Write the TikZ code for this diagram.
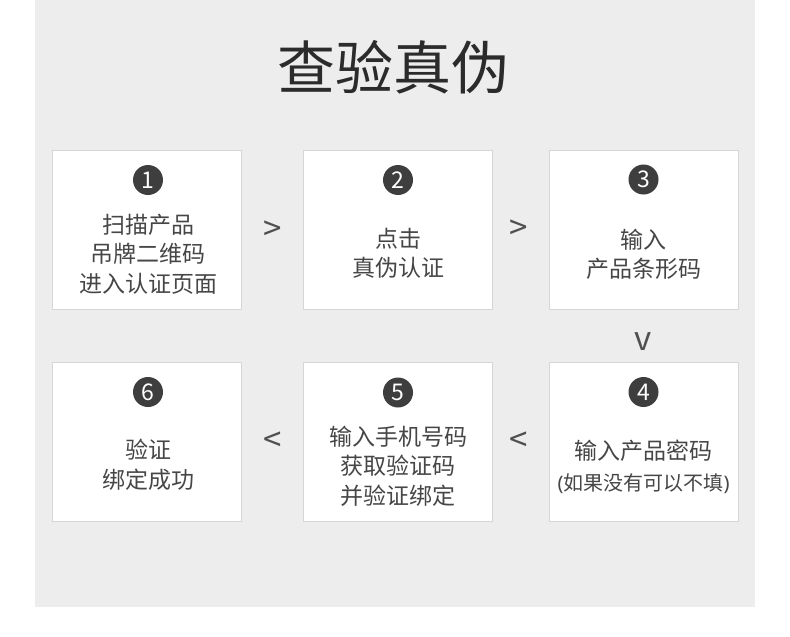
\documentclass[tikz,border=0pt]{standalone}
\usepackage{fontspec}
\setmainfont{Noto Sans CJK SC}
\newfontfamily\cjk{Noto Sans CJK SC}
\newfontfamily\latinp{Noto Sans}
\definecolor{bggray}{HTML}{EDEDED}
\definecolor{boxline}{HTML}{D6D6D6}
\definecolor{txt}{HTML}{464646}
\definecolor{titlec}{HTML}{2B2B2B}
\definecolor{dotc}{HTML}{3E3E3E}
\definecolor{chev}{HTML}{505050}
\begin{document}
\begin{tikzpicture}[x=1pt,y=-1pt,
  stepbox/.style={draw=boxline,line width=1pt,fill=white},
  numdot/.style={circle,fill=dotc,minimum size=30pt,inner sep=0pt,text=white,font=\cjk\fontsize{23}{23}\selectfont},
  steptext/.style={align=center,text=txt,inner sep=0pt,font=\cjk\fontsize{23}{29.5}\selectfont},
  chevron/.style={text=chev,inner sep=0pt,font=\cjk\fontsize{33}{33}\selectfont}]
\useasboundingbox (0,0) rectangle (790,637);
\fill[white] (0,0) rectangle (790,637);
\fill[bggray] (35,0) rectangle (755,607);
\node[text=titlec,inner sep=0pt,font=\cjk\fontsize{58}{58}\selectfont] (title) at (393,67) {查验真伪};
% boxes
\draw[stepbox] (52.5,150.5) rectangle (241.5,309.5);
\draw[stepbox] (303.5,150.5) rectangle (492.5,309.5);
\draw[stepbox] (549.5,150.5) rectangle (738.5,309.5);
\draw[stepbox] (52.5,362.5) rectangle (241.5,521.5);
\draw[stepbox] (303.5,362.5) rectangle (492.5,521.5);
\draw[stepbox] (549.5,362.5) rectangle (738.5,521.5);
% number dots
\node[numdot] (n1) at (148,180) {1};
\node[numdot] (n2) at (398,180) {2};
\node[numdot] (n3) at (643.5,179.5) {3};
\node[numdot] (n4) at (643.5,392) {4};
\node[numdot] (n5) at (398,392.5) {5};
\node[numdot] (n6) at (148,392) {6};
% texts
\node[steptext] (t1) at (148,254) {扫描产品\\吊牌二维码\\进入认证页面};
\node[steptext] (t2) at (398,253.5) {点击\\真伪认证};
\node[steptext] (t3) at (643.5,254.5) {输入\\产品条形码};
\node[steptext,font=\cjk\fontsize{23}{31}\selectfont] (t4) at (643.5,467) {输入产品密码\\{\fontsize{20}{31}\selectfont{\latinp(}如果没有可以不填{\latinp)}}};
\node[steptext] (t5) at (398,466) {输入手机号码\\获取验证码\\并验证绑定};
\node[steptext] (t6) at (148,465) {验证\\绑定成功};
% chevrons
\node[chevron] (c12) at (273,231) {>};
\node[chevron] (c23) at (519,230) {>};
\node[chevron] (c34) at (643.5,342) {v};
\node[chevron] (c45) at (519,442) {<};
\node[chevron] (c56) at (273,442) {<};
\end{tikzpicture}
\end{document}
